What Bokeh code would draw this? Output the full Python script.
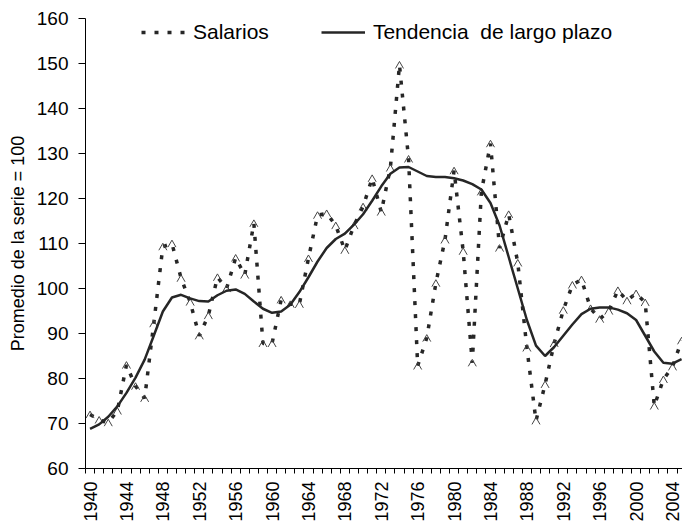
import math
from bokeh.plotting import figure
from bokeh.models import Range1d, FixedTicker, Legend, LegendItem, ColumnDataSource
from bokeh.embed import file_html
from bokeh.resources import INLINE

years = list(range(1940, 2006))

salarios = [72.0, 70.8, 70.2, 72.8, 83.0, 78.3, 75.6, 92.2, 109.3, 110.0,
            102.3, 97.0, 89.5, 94.0, 102.5, 100.0, 106.8, 103.0, 114.5, 87.8,
            87.8, 97.5, 96.5, 96.5, 106.7, 116.3, 116.7, 114.0, 108.5, 114.0,
            118.2, 124.5, 117.0, 126.8, 149.7, 128.8, 82.8, 89.0, 101.2, 110.8,
            126.2, 108.3, 83.5, 121.5, 132.2, 109.0, 116.5, 105.7, 86.8, 70.6,
            78.7, 87.8, 95.2, 100.8, 102.0, 95.6, 93.2, 95.0, 99.6, 97.3,
            98.9, 96.9, 73.9, 79.8, 82.6, 88.4]

tendencia = [68.8, 69.8, 71.5, 73.8, 76.8, 80.2, 84.2, 89.5, 94.9, 98.0,
             98.6, 97.8, 97.2, 97.1, 98.5, 99.5, 99.8, 98.8, 97.1, 95.5,
             94.6, 94.9, 96.4, 99.2, 102.5, 106.0, 109.0, 111.0, 112.2, 114.2,
             116.5, 119.5, 122.7, 125.5, 126.9, 127.0, 126.0, 125.0, 124.8, 124.8,
             124.5, 124.0, 123.2, 122.0, 119.0, 114.0, 107.0, 100.0, 93.0, 87.3,
             85.0, 87.0, 89.5, 92.0, 94.3, 95.5, 95.8, 95.8, 95.3, 94.5,
             93.0, 89.5, 86.0, 83.5, 83.3, 84.3]

x_ticks = list(range(1940, 2005, 4))
y_ticks = list(range(60, 161, 10))

FONT = "Liberation Sans"

p = figure(width=682, height=524, output_backend="svg", toolbar_location=None,
           x_range=Range1d(1939.5, 2005.1), y_range=Range1d(60, 160),
           min_border_left=85, min_border_right=0, min_border_top=18,
           min_border_bottom=54)
p.outline_line_color = None
p.xgrid.visible = False
p.ygrid.visible = False
p.background_fill_color = "white"
p.border_fill_color = "white"

# caret markers (open "^" shapes) derived from the data
cx = [[y - 0.44, y, y + 0.44] for y in years]
cy = [[v - 0.8, v + 0.75, v - 0.8] for v in salarios]

src = ColumnDataSource(dict(x=years, s=salarios, t=tendencia))

r_sal = p.line("x", "s", source=src, line_color="#262626", line_width=3.5,
               line_dash="4 9")
p.multi_line(cx, cy, line_color="#444444", line_width=1)
r_tr = p.line("x", "t", source=src, line_color="#262626", line_width=2.5)

# axes
xa = p.xaxis[0]
xa.ticker = FixedTicker(ticks=x_ticks,
                        minor_ticks=[y - 0.5 for y in years] + [years[-1] + 0.5])
xa.major_tick_out = 0
xa.major_tick_in = 0
xa.minor_tick_out = 5
xa.minor_tick_in = 0
xa.minor_tick_line_color = "black"
xa.major_label_orientation = math.pi / 2
xa.major_label_standoff = 8
xa.major_label_text_font = FONT
xa.major_label_text_font_size = "18px"
xa.major_label_text_color = "black"
xa.axis_line_color = "black"

ya = p.yaxis[0]
ya.ticker = FixedTicker(ticks=y_ticks)
ya.major_tick_out = 7
ya.major_tick_in = 0
ya.minor_tick_out = 0
ya.minor_tick_in = 0
ya.major_label_standoff = 10
ya.major_label_text_font = FONT
ya.major_label_text_font_size = "19px"
ya.major_label_text_color = "black"
ya.axis_line_color = "black"
ya.axis_label = "Promedio de la serie = 100"
ya.axis_label_text_font = FONT
ya.axis_label_text_font_size = "18px"
ya.axis_label_text_font_style = "normal"
ya.axis_label_text_color = "black"
ya.axis_label_standoff = 6

legend = Legend(items=[LegendItem(label="Salarios", renderers=[r_sal]),
                       LegendItem(label="Tendencia  de largo plazo", renderers=[r_tr])],
                orientation="horizontal", location=(56, 424),
                padding=0, margin=0, spacing=52, glyph_width=44, glyph_height=20,
                label_height=20, label_standoff=8,
                label_text_font=FONT, label_text_font_size="21px",
                label_text_color="black",
                border_line_color=None, background_fill_alpha=0)
p.add_layout(legend, "center")

open("out.html", "w").write(file_html(p, INLINE))
